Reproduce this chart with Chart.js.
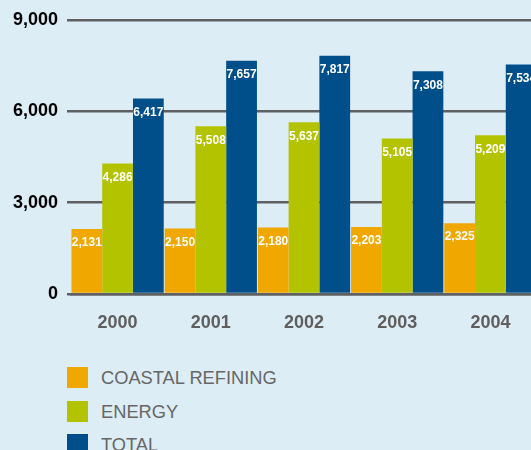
<!DOCTYPE html>
<html>
<head>
<meta charset="utf-8">
<script src="https://cdn.jsdelivr.net/npm/chart.js@4/dist/chart.umd.min.js"></script>
<style>
body{margin:0;background:#ddedf5;overflow:hidden;width:531px;height:450px;position:relative;font-family:"Liberation Sans",Arial,sans-serif}
#wrap{position:absolute;left:0;top:0;width:537px;height:334px}
#legenda{position:absolute;left:67px;top:367px}
.item{height:33.5px;display:flex;align-items:flex-start}
.item span.box{width:21px;height:21px;display:inline-block}
.item span.txt{margin-left:13px;font-size:18.3px;color:#666;line-height:21px}
</style>
</head>
<body>
<div id="wrap"><canvas id="grafico"></canvas></div>
<div id="legenda"></div>
<script>
let anos = ["2000","2001","2002","2003","2004"];
let refino = [2131,2150,2180,2203,2325];
let energia = [4286,5508,5637,5105,5209];
let total = [6417,7657,7817,7308,7534];
let nomes = ["COASTAL REFINING","ENERGY","TOTAL"];
let cores = ["#f0a800","#b3c300","#004f8a"];
let ticksY = [0,3000,6000,9000];

let legenda = document.getElementById("legenda");
nomes.forEach((n,i)=>{
let d = document.createElement("div");
d.className = "item";
d.innerHTML = `<span class="box" style="background:${cores[i]}"></span><span class="txt">${n}</span>`;
legenda.appendChild(d);
});

// rotulos brancos dentro das barras
let rotulos = {
id:"rotulos",
afterDatasetsDraw(chart){
let ctx = chart.ctx;
ctx.save();
ctx.fillStyle = "#fff";
ctx.font = "bold 12px 'Liberation Sans', Arial, sans-serif";
ctx.textAlign = "center";
ctx.textBaseline = "middle";
chart.data.datasets.forEach((ds,i)=>{
chart.getDatasetMeta(i).data.forEach((bar,j)=>{
ctx.fillText(ds.data[j].toLocaleString("en-US"), bar.x, bar.y+14);
});
});
ctx.restore();
}
};

new Chart(document.getElementById("grafico"),{
type:"bar",
data:{
labels:anos,
datasets:[
{label:nomes[0],data:refino,backgroundColor:cores[0]},
{label:nomes[1],data:energia,backgroundColor:cores[1]},
{label:nomes[2],data:total,backgroundColor:cores[2]}
]
},
options:{
responsive:true,
maintainAspectRatio:false,
animation:false,
layout:{padding:{top:14,right:0,left:0,bottom:0}},
datasets:{bar:{barPercentage:1,categoryPercentage:0.99}},
plugins:{legend:{display:false},tooltip:{enabled:false}},
scales:{
x:{
z:1,
grid:{display:false,drawTicks:false},
border:{display:true,color:"#5f6062",width:2.5},
ticks:{color:"#5e5e5e",font:{size:18,weight:"bold",family:"'Liberation Sans', Arial"},padding:18},
afterFit(s){s.height=40;}
},
y:{
min:0,max:9000,
afterBuildTicks(s){s.ticks=ticksY.map(v=>({value:v}));},
grid:{color:"#5f6062",lineWidth:2.5,tickLength:4,drawTicks:true},
border:{display:false},
ticks:{color:"#000",font:{size:18,weight:"bold",family:"'Liberation Sans', Arial"},padding:9,
callback:v=>v.toLocaleString("en-US")},
afterFit(s){s.width=71;}
}
}
},
plugins:[rotulos]
});
</script>
</body>
</html>
